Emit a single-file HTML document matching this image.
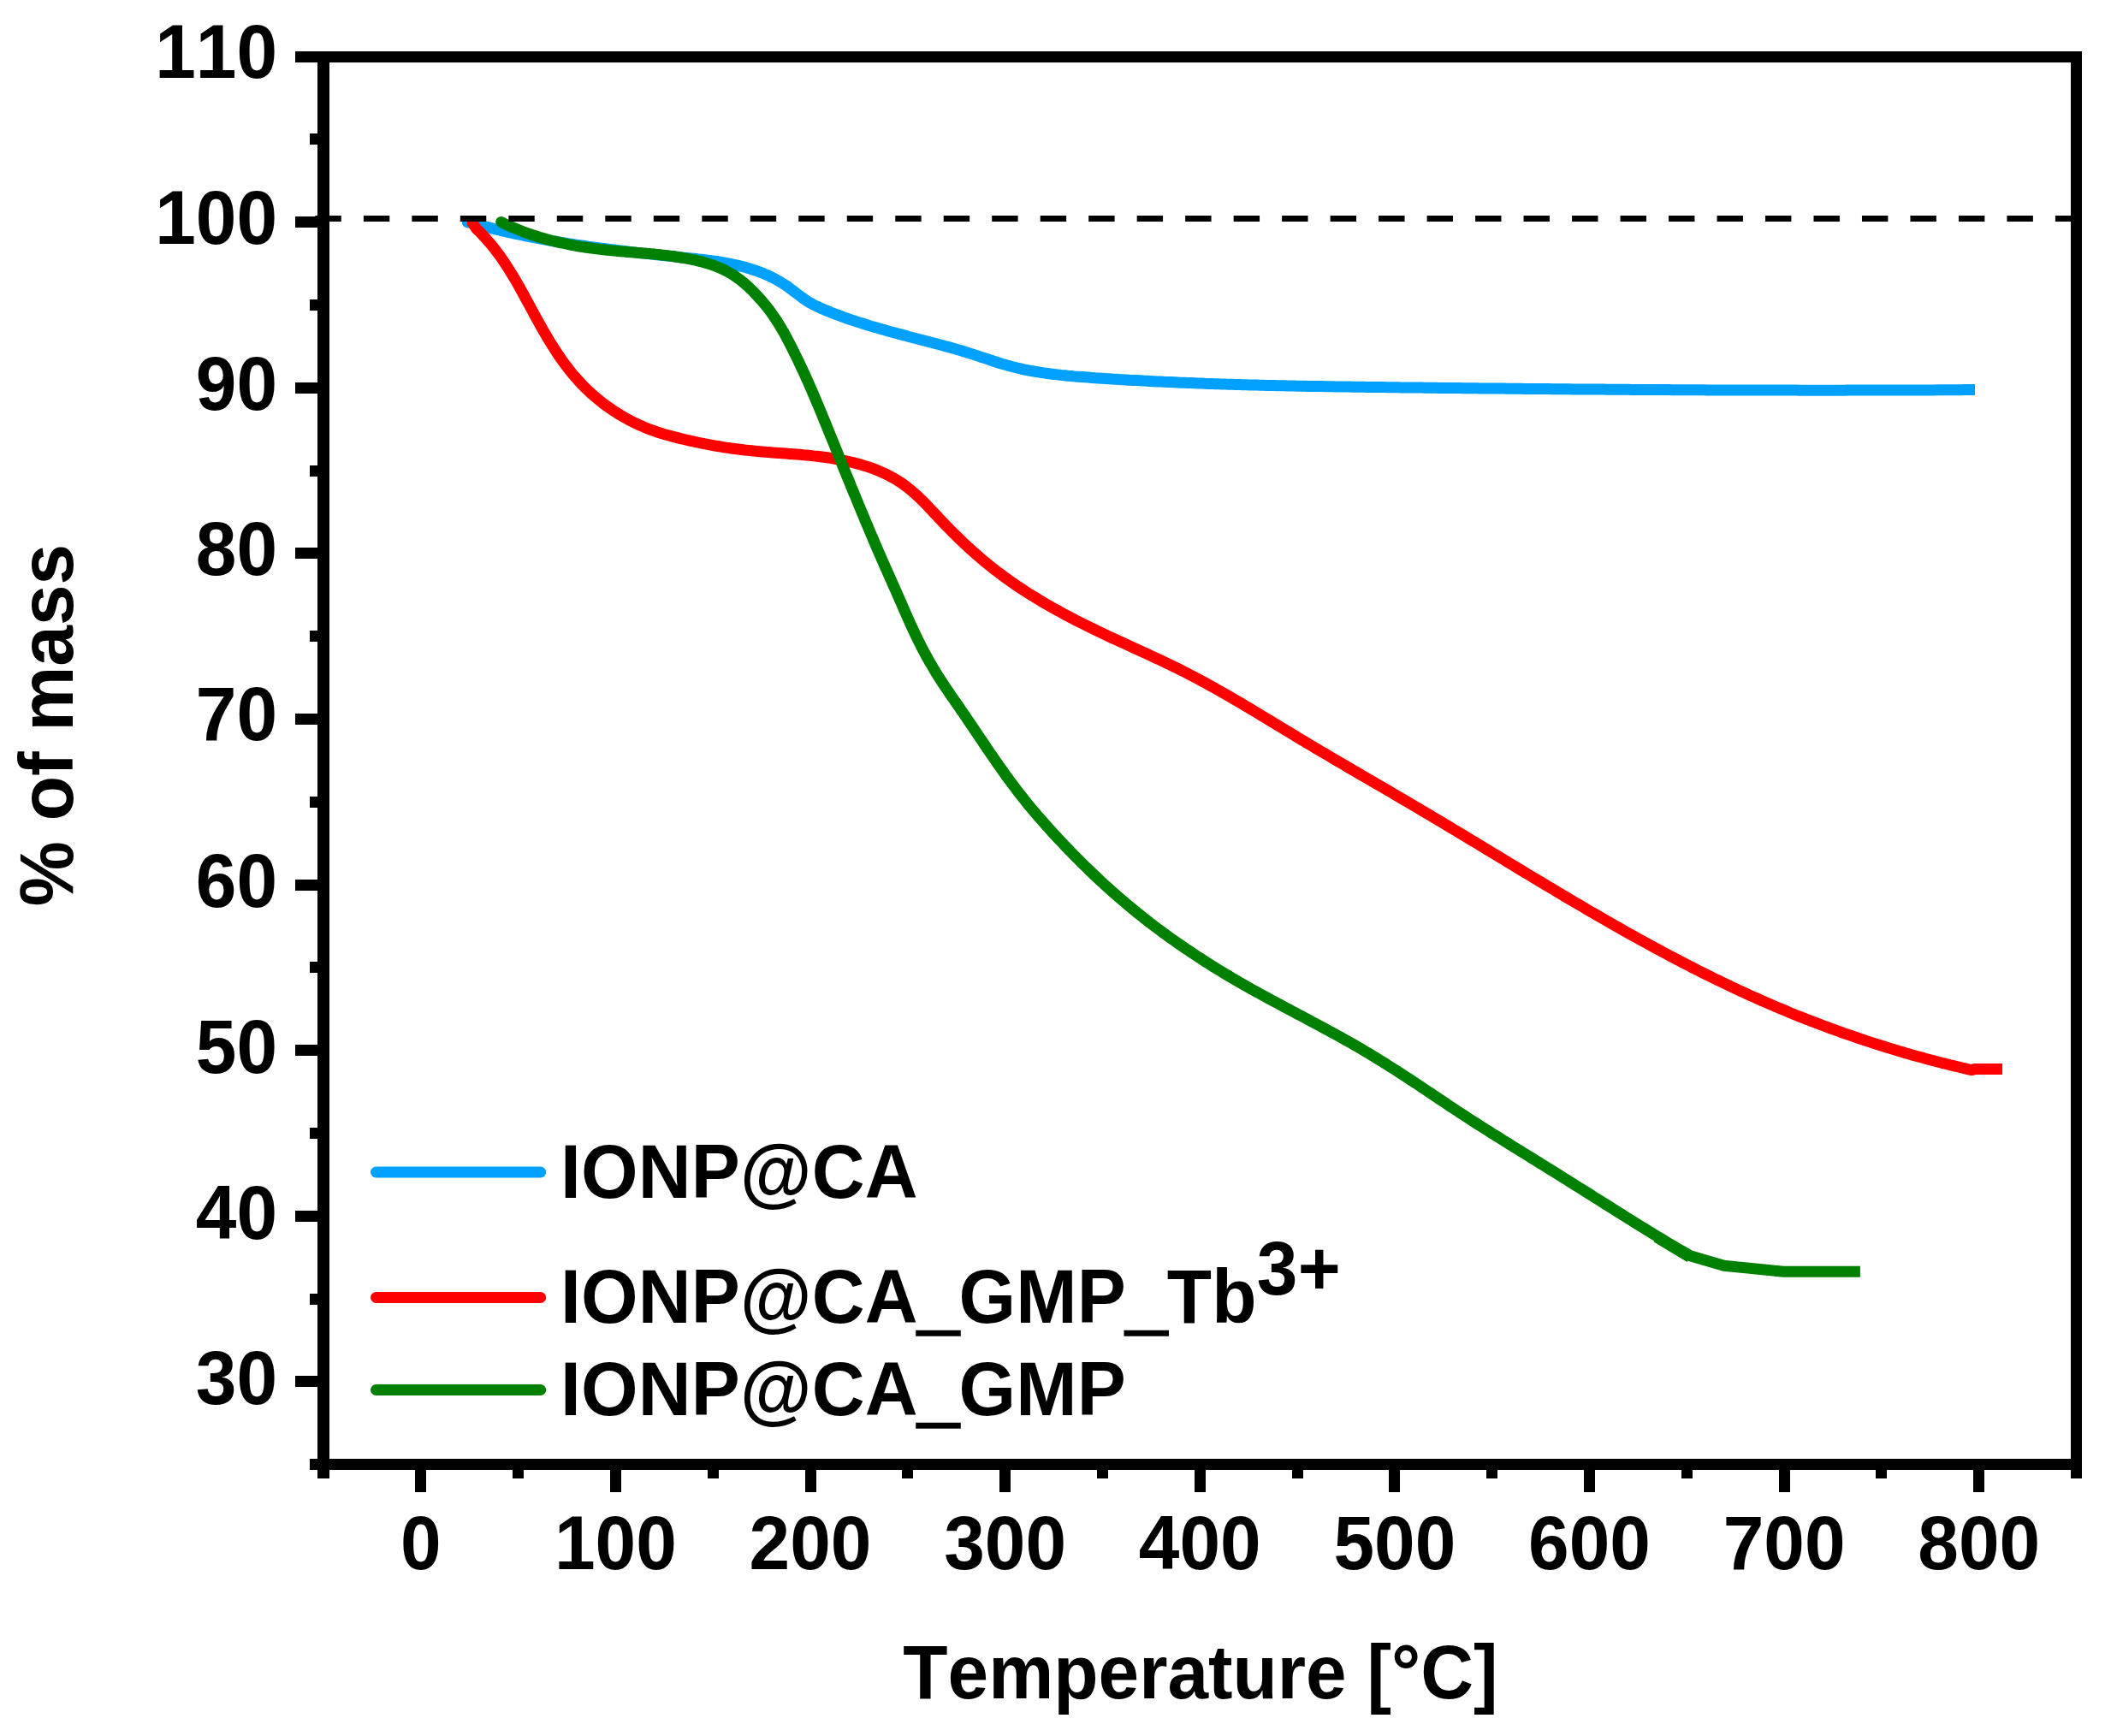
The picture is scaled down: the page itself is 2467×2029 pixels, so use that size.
<!DOCTYPE html>
<html lang="en"><head><meta charset="utf-8"><title>TGA: % of mass vs Temperature</title>
<style>html,body{margin:0;padding:0;background:#fff}body{width:2467px;height:2029px;overflow:hidden}svg{display:block}text{font-family:'Liberation Sans', Arial, Helvetica, sans-serif;font-weight:bold;fill:#000;font-kerning:none}</style></head><body>
<svg width="2467" height="2029" viewBox="0 0 2467 2029">
<rect x="0" y="0" width="2467" height="2029" fill="#fff"/>
<g fill="none" stroke-width="13" stroke-linejoin="round" stroke-linecap="butt">
<path d="M546.4 252.0 L546.4 259.8 L573.1 266.4 L577.0 267.4 L580.9 268.3 L584.8 269.3 L588.8 270.2 L592.7 271.1 L596.6 272.0 L600.6 272.8 L604.5 273.7 L608.4 274.5 L612.4 275.3 L616.3 276.1 L620.2 276.9 L624.2 277.7 L628.1 278.4 L632.1 279.2 L636.0 279.9 L640.0 280.6 L643.9 281.3 L647.9 282.0 L651.8 282.6 L655.8 283.3 L659.7 283.9 L663.7 284.6 L667.7 285.2 L671.6 285.8 L675.6 286.4 L679.6 287.0 L683.5 287.5 L687.5 288.1 L691.5 288.6 L695.4 289.2 L699.4 289.7 L703.4 290.3 L707.4 290.8 L711.3 291.3 L715.3 291.8 L719.3 292.3 L723.3 292.8 L727.3 293.2 L731.3 293.7 L735.2 294.2 L739.2 294.6 L743.2 295.1 L747.2 295.5 L751.2 296.0 L755.2 296.4 L759.2 296.9 L763.2 297.3 L767.2 297.7 L771.2 298.1 L775.2 298.6 L779.2 299.0 L783.2 299.4 L787.2 299.8 L791.2 300.2 L795.2 300.7 L799.2 301.1 L803.2 301.5 L807.2 301.9 L811.2 302.3 L815.2 302.8 L819.2 303.2 L823.2 303.7 L827.2 304.2 L831.2 304.7 L835.2 305.2 L839.2 305.8 L843.1 306.5 L847.1 307.1 L851.0 307.9 L854.9 308.6 L858.9 309.5 L862.8 310.4 L866.6 311.3 L870.5 312.3 L874.3 313.4 L878.2 314.6 L882.0 315.9 L885.7 317.2 L889.5 318.6 L893.2 320.1 L896.9 321.7 L900.6 323.4 L904.2 325.2 L907.7 327.1 L911.2 329.1 L914.7 331.2 L918.1 333.4 L921.4 335.7 L924.6 338.1 L927.8 340.5 L931.0 343.0 L934.2 345.4 L937.4 347.8 L940.7 350.1 L944.0 352.3 L947.4 354.3 L950.9 356.2 L954.5 358.0 L958.1 359.7 L961.8 361.3 L965.4 362.9 L969.2 364.4 L972.9 365.9 L976.7 367.3 L980.4 368.7 L984.2 370.1 L988.0 371.5 L991.8 372.8 L995.6 374.1 L999.4 375.3 L1003.2 376.6 L1007.1 377.8 L1010.9 379.0 L1014.7 380.2 L1018.6 381.4 L1022.5 382.5 L1026.3 383.6 L1030.2 384.7 L1034.1 385.8 L1037.9 386.9 L1041.8 388.0 L1045.7 389.0 L1049.6 390.1 L1053.5 391.1 L1057.4 392.1 L1061.2 393.2 L1065.1 394.2 L1069.0 395.2 L1072.9 396.2 L1076.8 397.2 L1080.6 398.2 L1084.5 399.2 L1088.4 400.2 L1092.3 401.2 L1096.1 402.3 L1100.0 403.3 L1103.9 404.4 L1107.7 405.4 L1111.6 406.5 L1115.4 407.6 L1119.3 408.7 L1123.1 409.8 L1127.0 411.0 L1130.8 412.2 L1134.7 413.4 L1138.5 414.6 L1142.4 415.9 L1146.2 417.2 L1150.0 418.4 L1153.9 419.7 L1157.7 421.0 L1161.5 422.2 L1165.4 423.5 L1169.2 424.7 L1173.1 425.8 L1177.0 426.9 L1180.8 428.0 L1184.7 429.0 L1188.6 430.0 L1192.5 430.9 L1196.4 431.8 L1200.4 432.6 L1204.3 433.3 L1208.2 434.0 L1212.2 434.7 L1216.1 435.3 L1220.1 435.9 L1224.1 436.5 L1228.0 437.0 L1232.0 437.5 L1236.0 437.9 L1240.0 438.4 L1244.0 438.8 L1248.0 439.2 L1252.0 439.5 L1256.0 439.9 L1260.0 440.2 L1264.0 440.5 L1268.0 440.8 L1272.0 441.1 L1276.0 441.4 L1280.0 441.7 L1284.0 441.9 L1288.0 442.2 L1292.0 442.5 L1296.1 442.7 L1300.1 443.0 L1304.1 443.2 L1308.1 443.5 L1312.1 443.7 L1316.1 443.9 L1320.1 444.2 L1324.1 444.4 L1328.1 444.6 L1332.2 444.8 L1336.2 445.1 L1340.2 445.3 L1344.2 445.5 L1348.2 445.7 L1352.2 445.9 L1356.2 446.1 L1360.2 446.3 L1364.2 446.4 L1368.3 446.6 L1372.3 446.8 L1376.3 447.0 L1380.3 447.2 L1384.3 447.3 L1388.3 447.5 L1392.3 447.6 L1396.3 447.8 L1400.4 448.0 L1404.4 448.1 L1408.4 448.3 L1412.4 448.4 L1416.4 448.5 L1420.4 448.7 L1424.4 448.8 L1428.5 448.9 L1432.5 449.1 L1436.5 449.2 L1440.5 449.3 L1444.5 449.4 L1448.5 449.5 L1452.5 449.7 L1456.6 449.8 L1460.6 449.9 L1464.6 450.0 L1468.6 450.1 L1472.6 450.2 L1476.6 450.3 L1480.6 450.4 L1484.7 450.5 L1488.7 450.6 L1492.7 450.7 L1496.7 450.7 L1500.7 450.8 L1504.7 450.9 L1508.8 451.0 L1512.8 451.1 L1516.8 451.2 L1520.8 451.2 L1524.8 451.3 L1528.8 451.4 L1532.8 451.4 L1536.9 451.5 L1540.9 451.6 L1544.9 451.6 L1548.9 451.7 L1552.9 451.8 L1556.9 451.8 L1561.0 451.9 L1565.0 452.0 L1569.0 452.0 L1573.0 452.1 L1577.0 452.1 L1581.0 452.2 L1585.1 452.2 L1589.1 452.3 L1593.1 452.3 L1597.1 452.4 L1601.1 452.4 L1605.1 452.5 L1609.2 452.5 L1613.2 452.6 L1617.2 452.6 L1621.2 452.7 L1625.2 452.7 L1629.2 452.8 L1633.3 452.8 L1637.3 452.9 L1641.3 452.9 L1645.3 453.0 L1649.3 453.0 L1653.3 453.1 L1657.4 453.1 L1661.4 453.1 L1665.4 453.2 L1669.4 453.2 L1673.4 453.3 L1677.4 453.3 L1681.5 453.4 L1685.5 453.4 L1689.5 453.4 L1693.5 453.5 L1697.5 453.5 L1701.5 453.6 L1705.5 453.6 L1709.6 453.7 L1713.6 453.7 L1717.6 453.7 L1721.6 453.8 L1725.6 453.8 L1729.6 453.9 L1733.7 453.9 L1737.7 453.9 L1741.7 454.0 L1745.7 454.0 L1749.7 454.1 L1753.7 454.1 L1757.8 454.1 L1761.8 454.2 L1765.8 454.2 L1769.8 454.3 L1773.8 454.3 L1777.8 454.3 L1781.9 454.4 L1785.9 454.4 L1789.9 454.4 L1793.9 454.5 L1797.9 454.5 L1801.9 454.6 L1806.0 454.6 L1810.0 454.6 L1814.0 454.7 L1818.0 454.7 L1822.0 454.7 L1826.0 454.8 L1830.1 454.8 L1834.1 454.8 L1838.1 454.9 L1842.1 454.9 L1846.1 454.9 L1850.1 455.0 L1854.1 455.0 L1858.2 455.0 L1862.2 455.1 L1866.2 455.1 L1870.2 455.1 L1874.2 455.1 L1878.2 455.2 L1882.3 455.2 L1886.3 455.2 L1890.3 455.3 L1894.3 455.3 L1898.3 455.3 L1902.3 455.3 L1906.4 455.4 L1910.4 455.4 L1914.4 455.4 L1918.4 455.5 L1922.4 455.5 L1926.4 455.5 L1930.5 455.5 L1934.5 455.6 L1938.5 455.6 L1942.5 455.6 L1946.5 455.6 L1950.5 455.6 L1954.5 455.7 L1958.6 455.7 L1962.6 455.7 L1966.6 455.7 L1970.6 455.8 L1974.6 455.8 L1978.6 455.8 L1982.7 455.8 L1986.7 455.8 L1990.7 455.8 L1994.7 455.9 L1998.7 455.9 L2002.7 455.9 L2006.8 455.9 L2010.8 455.9 L2014.8 455.9 L2018.8 456.0 L2022.8 456.0 L2026.8 456.0 L2030.9 456.0 L2034.9 456.0 L2038.9 456.0 L2042.9 456.0 L2046.9 456.0 L2050.9 456.1 L2055.0 456.1 L2059.0 456.1 L2063.0 456.1 L2067.0 456.1 L2071.0 456.1 L2075.0 456.1 L2079.1 456.1 L2083.1 456.1 L2087.1 456.1 L2091.1 456.1 L2095.1 456.1 L2099.1 456.1 L2103.1 456.2 L2107.2 456.2 L2111.2 456.2 L2115.2 456.2 L2119.2 456.2 L2123.2 456.2 L2127.2 456.2 L2131.3 456.2 L2135.3 456.2 L2139.3 456.2 L2143.3 456.2 L2147.3 456.2 L2151.3 456.2 L2155.4 456.2 L2159.4 456.1 L2163.4 456.1 L2167.4 456.1 L2171.4 456.1 L2175.4 456.1 L2179.5 456.1 L2183.5 456.1 L2187.5 456.1 L2191.5 456.1 L2195.5 456.1 L2199.5 456.1 L2203.6 456.1 L2207.6 456.1 L2211.6 456.0 L2215.6 456.0 L2219.6 456.0 L2223.6 456.0 L2227.7 456.0 L2231.7 456.0 L2235.7 456.0 L2239.7 455.9 L2243.7 455.9 L2247.7 455.9 L2251.8 455.9 L2255.8 455.9 L2259.8 455.9 L2263.8 455.8 L2267.8 455.8 L2271.8 455.8 L2275.9 455.8 L2279.9 455.7 L2283.9 455.7 L2287.9 455.7 L2291.9 455.7 L2295.9 455.6 L2300.0 455.6 L2304.0 455.6 L2308.0 455.6" stroke="#00a0ff"/>
<path d="M552.4 252.0 L552.4 261.0 L557.1 267.8 L560.1 270.6 L562.9 273.5 L565.7 276.5 L568.4 279.4 L571.1 282.5 L573.7 285.5 L576.2 288.6 L578.7 291.8 L581.1 294.9 L583.5 298.1 L585.8 301.4 L588.1 304.7 L590.3 308.0 L592.5 311.3 L594.6 314.7 L596.7 318.1 L598.8 321.5 L600.9 324.9 L602.9 328.4 L604.9 331.8 L606.9 335.3 L608.8 338.8 L610.8 342.3 L612.7 345.8 L614.6 349.4 L616.5 352.9 L618.5 356.4 L620.4 360.0 L622.3 363.5 L624.2 367.1 L626.1 370.6 L628.1 374.2 L630.0 377.7 L632.0 381.2 L634.0 384.7 L636.0 388.2 L638.1 391.7 L640.1 395.2 L642.2 398.7 L644.3 402.1 L646.5 405.5 L648.6 408.9 L650.9 412.3 L653.1 415.6 L655.4 419.0 L657.7 422.2 L660.1 425.5 L662.5 428.7 L664.9 431.9 L667.4 435.0 L670.0 438.1 L672.6 441.1 L675.3 444.1 L678.0 447.1 L680.7 450.0 L683.5 452.8 L686.4 455.6 L689.3 458.4 L692.3 461.1 L695.3 463.7 L698.4 466.3 L701.5 468.8 L704.7 471.3 L707.9 473.7 L711.2 476.1 L714.5 478.4 L717.8 480.6 L721.2 482.8 L724.6 484.9 L728.1 487.0 L731.6 488.9 L735.1 490.9 L738.7 492.7 L742.3 494.5 L745.9 496.2 L749.6 497.8 L753.3 499.4 L757.0 500.9 L760.8 502.4 L764.5 503.7 L768.3 505.0 L772.2 506.2 L776.0 507.4 L779.9 508.5 L783.8 509.6 L787.7 510.6 L791.6 511.6 L795.5 512.6 L799.4 513.5 L803.3 514.4 L807.3 515.3 L811.2 516.1 L815.1 517.0 L819.1 517.8 L823.0 518.6 L826.9 519.3 L830.9 520.1 L834.8 520.8 L838.8 521.5 L842.7 522.1 L846.7 522.8 L850.6 523.4 L854.6 524.0 L858.6 524.5 L862.6 525.0 L866.5 525.5 L870.5 526.0 L874.5 526.4 L878.5 526.8 L882.5 527.2 L886.5 527.6 L890.5 527.9 L894.5 528.3 L898.5 528.6 L902.6 528.9 L906.6 529.2 L910.6 529.5 L914.6 529.8 L918.6 530.1 L922.6 530.4 L926.7 530.7 L930.7 531.0 L934.7 531.3 L938.7 531.7 L942.7 532.0 L946.7 532.4 L950.7 532.9 L954.7 533.3 L958.7 533.8 L962.6 534.3 L966.6 534.8 L970.6 535.4 L974.5 536.1 L978.5 536.7 L982.4 537.5 L986.4 538.3 L990.3 539.1 L994.2 540.0 L998.1 540.9 L1002.0 542.0 L1005.9 543.1 L1009.7 544.2 L1013.6 545.4 L1017.4 546.7 L1021.2 548.1 L1024.9 549.6 L1028.6 551.1 L1032.3 552.7 L1035.9 554.4 L1039.5 556.2 L1043.0 558.1 L1046.5 560.1 L1049.8 562.2 L1053.2 564.3 L1056.4 566.6 L1059.6 569.0 L1062.8 571.5 L1065.8 574.0 L1068.8 576.6 L1071.8 579.3 L1074.7 582.1 L1077.6 584.9 L1080.4 587.7 L1083.2 590.6 L1086.0 593.6 L1088.8 596.5 L1091.6 599.5 L1094.4 602.4 L1097.1 605.4 L1099.9 608.3 L1102.7 611.3 L1105.5 614.2 L1108.3 617.1 L1111.2 620.0 L1114.0 622.8 L1116.9 625.7 L1119.8 628.5 L1122.7 631.3 L1125.6 634.1 L1128.5 636.8 L1131.5 639.5 L1134.4 642.3 L1137.4 644.9 L1140.4 647.6 L1143.5 650.2 L1146.5 652.8 L1149.6 655.4 L1152.7 658.0 L1155.8 660.5 L1158.9 663.0 L1162.0 665.5 L1165.2 667.9 L1168.4 670.3 L1171.6 672.7 L1174.8 675.1 L1178.1 677.4 L1181.3 679.8 L1184.6 682.0 L1187.9 684.3 L1191.2 686.5 L1194.6 688.7 L1197.9 690.9 L1201.3 693.1 L1204.7 695.2 L1208.1 697.3 L1211.5 699.4 L1215.0 701.5 L1218.4 703.6 L1221.9 705.6 L1225.4 707.6 L1228.8 709.6 L1232.4 711.6 L1235.9 713.5 L1239.4 715.4 L1242.9 717.4 L1246.5 719.3 L1250.0 721.1 L1253.6 723.0 L1257.2 724.9 L1260.8 726.7 L1264.3 728.5 L1267.9 730.3 L1271.6 732.1 L1275.2 733.9 L1278.8 735.6 L1282.4 737.4 L1286.0 739.1 L1289.7 740.9 L1293.3 742.6 L1296.9 744.3 L1300.6 746.0 L1304.2 747.7 L1307.9 749.4 L1311.5 751.0 L1315.2 752.7 L1318.8 754.4 L1322.5 756.1 L1326.1 757.7 L1329.8 759.4 L1333.4 761.1 L1337.1 762.7 L1340.7 764.4 L1344.4 766.1 L1348.0 767.8 L1351.6 769.5 L1355.3 771.2 L1358.9 772.9 L1362.5 774.6 L1366.1 776.3 L1369.7 778.1 L1373.3 779.8 L1376.9 781.6 L1380.5 783.4 L1384.1 785.2 L1387.6 787.0 L1391.2 788.9 L1394.8 790.7 L1398.3 792.6 L1401.8 794.5 L1405.4 796.4 L1408.9 798.3 L1412.4 800.3 L1415.9 802.2 L1419.4 804.2 L1422.9 806.1 L1426.4 808.1 L1429.9 810.1 L1433.4 812.1 L1436.9 814.1 L1440.4 816.1 L1443.8 818.2 L1447.3 820.2 L1450.8 822.2 L1454.2 824.3 L1457.7 826.3 L1461.1 828.4 L1464.6 830.5 L1468.0 832.5 L1471.5 834.6 L1474.9 836.7 L1478.4 838.8 L1481.8 840.8 L1485.2 842.9 L1488.7 845.0 L1492.1 847.1 L1495.6 849.2 L1499.0 851.3 L1502.4 853.4 L1505.9 855.4 L1509.3 857.5 L1512.8 859.6 L1516.2 861.7 L1519.6 863.8 L1523.1 865.8 L1526.5 867.9 L1530.0 870.0 L1533.4 872.0 L1536.9 874.1 L1540.3 876.1 L1543.8 878.2 L1547.2 880.2 L1550.7 882.2 L1554.2 884.3 L1557.6 886.3 L1561.1 888.4 L1564.5 890.4 L1568.0 892.4 L1571.5 894.4 L1574.9 896.5 L1578.4 898.5 L1581.8 900.5 L1585.3 902.5 L1588.8 904.6 L1592.2 906.6 L1595.7 908.6 L1599.2 910.6 L1602.6 912.6 L1606.1 914.6 L1609.5 916.7 L1613.0 918.7 L1616.5 920.7 L1619.9 922.7 L1623.4 924.7 L1626.9 926.8 L1630.3 928.8 L1633.8 930.8 L1637.2 932.8 L1640.7 934.9 L1644.2 936.9 L1647.6 938.9 L1651.1 941.0 L1654.5 943.0 L1658.0 945.0 L1661.4 947.1 L1664.9 949.1 L1668.3 951.2 L1671.8 953.2 L1675.2 955.3 L1678.7 957.3 L1682.1 959.4 L1685.6 961.4 L1689.0 963.5 L1692.5 965.6 L1695.9 967.6 L1699.4 969.7 L1702.8 971.8 L1706.2 973.8 L1709.7 975.9 L1713.1 978.0 L1716.6 980.1 L1720.0 982.2 L1723.4 984.2 L1726.9 986.3 L1730.3 988.4 L1733.8 990.5 L1737.2 992.6 L1740.6 994.6 L1744.1 996.7 L1747.5 998.8 L1751.0 1000.9 L1754.4 1003.0 L1757.8 1005.0 L1761.3 1007.1 L1764.7 1009.2 L1768.1 1011.3 L1771.6 1013.4 L1775.0 1015.5 L1778.5 1017.5 L1781.9 1019.6 L1785.4 1021.7 L1788.8 1023.8 L1792.2 1025.8 L1795.7 1027.9 L1799.1 1030.0 L1802.6 1032.0 L1806.0 1034.1 L1809.5 1036.2 L1812.9 1038.2 L1816.4 1040.3 L1819.8 1042.4 L1823.3 1044.4 L1826.7 1046.5 L1830.2 1048.5 L1833.7 1050.6 L1837.1 1052.6 L1840.6 1054.7 L1844.0 1056.7 L1847.5 1058.7 L1851.0 1060.8 L1854.4 1062.8 L1857.9 1064.8 L1861.4 1066.8 L1864.9 1068.9 L1868.3 1070.9 L1871.8 1072.9 L1875.3 1074.9 L1878.8 1076.9 L1882.3 1078.9 L1885.7 1080.9 L1889.2 1082.9 L1892.7 1084.8 L1896.2 1086.8 L1899.7 1088.8 L1903.2 1090.8 L1906.7 1092.7 L1910.2 1094.7 L1913.7 1096.6 L1917.2 1098.6 L1920.8 1100.5 L1924.3 1102.4 L1927.8 1104.4 L1931.3 1106.3 L1934.8 1108.2 L1938.4 1110.1 L1941.9 1112.0 L1945.4 1113.9 L1949.0 1115.8 L1952.5 1117.7 L1956.1 1119.6 L1959.6 1121.4 L1963.2 1123.3 L1966.7 1125.1 L1970.3 1127.0 L1973.9 1128.8 L1977.4 1130.6 L1981.0 1132.5 L1984.6 1134.3 L1988.2 1136.1 L1991.8 1137.9 L1995.3 1139.7 L1998.9 1141.4 L2002.5 1143.2 L2006.1 1145.0 L2009.7 1146.7 L2013.4 1148.5 L2017.0 1150.2 L2020.6 1151.9 L2024.2 1153.7 L2027.8 1155.4 L2031.5 1157.1 L2035.1 1158.8 L2038.8 1160.4 L2042.4 1162.1 L2046.1 1163.8 L2049.7 1165.4 L2053.4 1167.0 L2057.0 1168.7 L2060.7 1170.3 L2064.4 1171.9 L2068.1 1173.5 L2071.8 1175.1 L2075.5 1176.7 L2079.2 1178.2 L2082.9 1179.8 L2086.6 1181.3 L2090.3 1182.9 L2094.0 1184.4 L2097.7 1185.9 L2101.4 1187.4 L2105.2 1188.9 L2108.9 1190.4 L2112.7 1191.8 L2116.4 1193.3 L2120.1 1194.7 L2123.9 1196.2 L2127.7 1197.6 L2131.4 1199.0 L2135.2 1200.4 L2138.9 1201.8 L2142.7 1203.2 L2146.5 1204.5 L2150.3 1205.9 L2154.1 1207.3 L2157.9 1208.6 L2161.7 1209.9 L2165.5 1211.2 L2169.3 1212.5 L2173.1 1213.8 L2176.9 1215.1 L2180.7 1216.4 L2184.5 1217.6 L2188.3 1218.9 L2192.1 1220.1 L2196.0 1221.3 L2199.8 1222.5 L2203.6 1223.7 L2207.5 1224.9 L2211.3 1226.1 L2215.2 1227.2 L2219.0 1228.4 L2222.9 1229.5 L2226.7 1230.7 L2230.6 1231.8 L2234.4 1232.9 L2238.3 1234.0 L2242.2 1235.0 L2246.1 1236.1 L2249.9 1237.2 L2253.8 1238.2 L2257.7 1239.2 L2261.6 1240.3 L2265.5 1241.3 L2269.3 1242.3 L2273.2 1243.2 L2277.1 1244.2 L2281.0 1245.2 L2284.9 1246.1 L2288.8 1247.0 L2292.7 1248.0 L2296.7 1248.9 L2300.6 1249.8 L2304.5 1250.6 L2308.0 1249.4 L2340.0 1249.4" stroke="#ff0000"/>
<path d="M585.6 259.6 L589.2 261.4 L592.9 263.1 L596.5 264.7 L600.2 266.3 L603.9 267.8 L607.6 269.3 L611.3 270.8 L615.1 272.1 L618.9 273.5 L622.7 274.8 L626.5 276.0 L630.3 277.2 L634.2 278.3 L638.0 279.4 L641.9 280.5 L645.8 281.5 L649.7 282.4 L653.6 283.3 L657.6 284.2 L661.5 285.0 L665.4 285.8 L669.4 286.6 L673.4 287.3 L677.3 288.0 L681.3 288.6 L685.3 289.3 L689.3 289.8 L693.3 290.4 L697.3 290.9 L701.3 291.4 L705.3 291.8 L709.3 292.2 L713.3 292.6 L717.3 293.0 L721.3 293.4 L725.3 293.7 L729.3 294.1 L733.3 294.4 L737.3 294.7 L741.3 295.1 L745.3 295.4 L749.3 295.7 L753.3 296.1 L757.3 296.4 L761.3 296.8 L765.2 297.1 L769.2 297.5 L773.2 298.0 L777.2 298.4 L781.2 298.9 L785.2 299.4 L789.2 300.0 L793.1 300.6 L797.1 301.2 L801.1 301.9 L805.0 302.6 L809.0 303.4 L812.9 304.2 L816.8 305.1 L820.7 306.1 L824.6 307.2 L828.4 308.4 L832.2 309.6 L835.9 311.0 L839.6 312.4 L843.3 314.0 L846.9 315.7 L850.4 317.6 L853.9 319.5 L857.3 321.6 L860.6 323.9 L863.8 326.2 L867.0 328.7 L870.1 331.3 L873.2 334.0 L876.2 336.8 L879.1 339.6 L881.9 342.5 L884.7 345.5 L887.5 348.5 L890.2 351.5 L892.8 354.6 L895.4 357.7 L897.8 360.9 L900.3 364.1 L902.6 367.4 L904.9 370.7 L907.2 374.0 L909.3 377.4 L911.4 380.8 L913.5 384.3 L915.5 387.7 L917.4 391.2 L919.3 394.8 L921.2 398.3 L923.0 401.8 L924.9 405.4 L926.7 409.0 L928.4 412.6 L930.2 416.2 L932.0 419.8 L933.7 423.4 L935.4 427.0 L937.1 430.6 L938.8 434.3 L940.5 437.9 L942.1 441.6 L943.8 445.2 L945.4 448.9 L947.0 452.6 L948.6 456.2 L950.2 459.9 L951.8 463.6 L953.4 467.3 L954.9 471.0 L956.5 474.7 L958.0 478.4 L959.6 482.1 L961.1 485.9 L962.6 489.6 L964.2 493.3 L965.7 497.0 L967.2 500.8 L968.7 504.5 L970.2 508.2 L971.7 511.9 L973.3 515.7 L974.8 519.4 L976.3 523.1 L977.8 526.8 L979.3 530.6 L980.8 534.3 L982.3 538.0 L983.8 541.7 L985.3 545.5 L986.8 549.2 L988.3 552.9 L989.8 556.6 L991.4 560.3 L992.9 564.0 L994.4 567.8 L995.9 571.5 L997.4 575.2 L999.0 578.9 L1000.5 582.6 L1002.0 586.3 L1003.5 590.0 L1005.1 593.7 L1006.6 597.4 L1008.2 601.1 L1009.7 604.8 L1011.2 608.6 L1012.8 612.2 L1014.4 615.9 L1015.9 619.6 L1017.5 623.3 L1019.1 627.0 L1020.6 630.7 L1022.2 634.4 L1023.8 638.1 L1025.4 641.8 L1027.0 645.5 L1028.6 649.1 L1030.2 652.8 L1031.8 656.5 L1033.4 660.2 L1035.0 663.9 L1036.7 667.5 L1038.3 671.2 L1039.9 674.9 L1041.6 678.5 L1043.2 682.2 L1044.8 685.9 L1046.5 689.5 L1048.1 693.2 L1049.7 696.9 L1051.3 700.6 L1053.0 704.2 L1054.6 707.9 L1056.2 711.6 L1057.8 715.3 L1059.4 719.0 L1061.0 722.6 L1062.7 726.3 L1064.3 730.0 L1066.0 733.6 L1067.7 737.3 L1069.4 740.9 L1071.1 744.5 L1072.9 748.1 L1074.7 751.7 L1076.5 755.3 L1078.3 758.9 L1080.2 762.4 L1082.1 765.9 L1084.1 769.5 L1086.0 773.0 L1088.1 776.4 L1090.1 779.9 L1092.1 783.3 L1094.2 786.8 L1096.4 790.2 L1098.5 793.5 L1100.7 796.9 L1102.9 800.3 L1105.1 803.6 L1107.4 806.9 L1109.7 810.3 L1111.9 813.6 L1114.2 816.9 L1116.5 820.2 L1118.8 823.5 L1121.1 826.8 L1123.3 830.1 L1125.6 833.4 L1127.9 836.7 L1130.1 840.0 L1132.4 843.4 L1134.6 846.7 L1136.9 850.0 L1139.1 853.4 L1141.4 856.7 L1143.6 860.0 L1145.9 863.4 L1148.1 866.7 L1150.4 870.0 L1152.6 873.4 L1154.9 876.7 L1157.1 880.0 L1159.4 883.3 L1161.7 886.6 L1164.0 889.9 L1166.2 893.2 L1168.6 896.5 L1170.9 899.8 L1173.2 903.0 L1175.5 906.3 L1177.9 909.5 L1180.3 912.8 L1182.7 916.0 L1185.1 919.2 L1187.5 922.4 L1189.9 925.6 L1192.4 928.8 L1194.9 931.9 L1197.4 935.0 L1199.9 938.2 L1202.4 941.3 L1205.0 944.4 L1207.6 947.4 L1210.2 950.5 L1212.8 953.6 L1215.4 956.6 L1218.1 959.6 L1220.7 962.6 L1223.4 965.6 L1226.1 968.6 L1228.8 971.6 L1231.5 974.6 L1234.2 977.5 L1237.0 980.5 L1239.7 983.4 L1242.5 986.3 L1245.2 989.2 L1248.0 992.1 L1250.8 995.0 L1253.6 997.9 L1256.4 1000.8 L1259.3 1003.6 L1262.1 1006.5 L1264.9 1009.3 L1267.8 1012.1 L1270.7 1014.9 L1273.6 1017.7 L1276.5 1020.5 L1279.4 1023.3 L1282.3 1026.0 L1285.2 1028.8 L1288.2 1031.5 L1291.1 1034.2 L1294.1 1036.9 L1297.1 1039.6 L1300.1 1042.3 L1303.1 1044.9 L1306.1 1047.6 L1309.1 1050.2 L1312.2 1052.8 L1315.2 1055.4 L1318.3 1058.0 L1321.4 1060.6 L1324.5 1063.1 L1327.6 1065.6 L1330.7 1068.2 L1333.9 1070.7 L1337.0 1073.2 L1340.2 1075.6 L1343.3 1078.1 L1346.5 1080.5 L1349.7 1083.0 L1352.9 1085.4 L1356.2 1087.8 L1359.4 1090.2 L1362.6 1092.5 L1365.9 1094.9 L1369.1 1097.2 L1372.4 1099.5 L1375.7 1101.8 L1379.0 1104.1 L1382.3 1106.4 L1385.6 1108.7 L1389.0 1110.9 L1392.3 1113.2 L1395.6 1115.4 L1399.0 1117.6 L1402.4 1119.8 L1405.7 1122.0 L1409.1 1124.2 L1412.5 1126.3 L1415.9 1128.5 L1419.3 1130.6 L1422.7 1132.7 L1426.2 1134.8 L1429.6 1136.9 L1433.0 1139.0 L1436.5 1141.0 L1439.9 1143.1 L1443.4 1145.1 L1446.9 1147.1 L1450.3 1149.1 L1453.8 1151.1 L1457.3 1153.1 L1460.8 1155.1 L1464.3 1157.1 L1467.8 1159.0 L1471.3 1160.9 L1474.9 1162.9 L1478.4 1164.8 L1481.9 1166.7 L1485.4 1168.6 L1489.0 1170.5 L1492.5 1172.4 L1496.1 1174.3 L1499.6 1176.2 L1503.1 1178.1 L1506.7 1180.0 L1510.2 1181.9 L1513.8 1183.8 L1517.3 1185.7 L1520.9 1187.5 L1524.4 1189.4 L1527.9 1191.3 L1531.5 1193.2 L1535.0 1195.1 L1538.6 1197.0 L1542.1 1198.9 L1545.6 1200.8 L1549.2 1202.7 L1552.7 1204.6 L1556.2 1206.5 L1559.7 1208.4 L1563.3 1210.4 L1566.8 1212.3 L1570.3 1214.3 L1573.8 1216.2 L1577.3 1218.2 L1580.8 1220.2 L1584.2 1222.2 L1587.7 1224.2 L1591.2 1226.2 L1594.6 1228.3 L1598.1 1230.3 L1601.5 1232.4 L1605.0 1234.5 L1608.4 1236.6 L1611.8 1238.7 L1615.2 1240.8 L1618.6 1242.9 L1622.0 1245.1 L1625.4 1247.2 L1628.8 1249.4 L1632.2 1251.5 L1635.6 1253.7 L1638.9 1255.9 L1642.3 1258.1 L1645.7 1260.3 L1649.0 1262.5 L1652.4 1264.7 L1655.7 1266.9 L1659.1 1269.1 L1662.4 1271.4 L1665.8 1273.6 L1669.1 1275.8 L1672.4 1278.0 L1675.8 1280.3 L1679.1 1282.5 L1682.4 1284.8 L1685.8 1287.0 L1689.1 1289.2 L1692.4 1291.5 L1695.8 1293.7 L1699.1 1295.9 L1702.5 1298.1 L1705.8 1300.3 L1709.2 1302.5 L1712.5 1304.7 L1715.9 1306.9 L1719.2 1309.1 L1722.6 1311.3 L1726.0 1313.4 L1729.4 1315.6 L1732.8 1317.7 L1736.2 1319.9 L1739.6 1322.0 L1742.9 1324.2 L1746.3 1326.3 L1749.7 1328.4 L1753.2 1330.6 L1756.6 1332.7 L1760.0 1334.8 L1763.4 1336.9 L1766.8 1339.1 L1770.2 1341.2 L1773.6 1343.3 L1777.0 1345.4 L1780.4 1347.5 L1783.9 1349.6 L1787.3 1351.8 L1790.7 1353.9 L1794.1 1356.0 L1797.5 1358.1 L1800.9 1360.2 L1804.3 1362.3 L1807.8 1364.5 L1811.2 1366.6 L1814.6 1368.7 L1818.0 1370.8 L1821.4 1372.9 L1824.8 1375.1 L1828.2 1377.2 L1831.6 1379.3 L1835.0 1381.5 L1838.4 1383.6 L1841.8 1385.7 L1845.2 1387.9 L1848.6 1390.0 L1852.0 1392.1 L1855.4 1394.3 L1858.8 1396.4 L1862.2 1398.6 L1865.6 1400.7 L1869.0 1402.8 L1872.4 1405.0 L1875.8 1407.1 L1879.2 1409.3 L1882.6 1411.4 L1886.0 1413.5 L1889.4 1415.7 L1892.8 1417.8 L1896.2 1419.9 L1899.6 1422.1 L1903.0 1424.2 L1906.4 1426.3 L1909.8 1428.5 L1913.2 1430.6 L1916.6 1432.7 L1920.0 1434.8 L1923.4 1436.9 L1926.9 1439.0 L1930.3 1441.1 L1933.7 1443.2 L1937.1 1445.3 L1940.6 1447.4 L1944.0 1449.4 L1947.5 1451.5 L1950.9 1453.5 L1954.4 1455.6 L1957.8 1457.6 L1961.3 1459.7 L1964.8 1461.7 L1968.2 1463.7 L1971.7 1465.7 L1975.2 1467.7 L2014.6 1479.2 L2084.2 1486.3 L2173.9 1486.3" stroke="#008000"/>
<path d="M1936 1446 L1975 1469.5" stroke="#008000"/>
</g>
<circle cx="585.7" cy="259.4" r="6.5" fill="#008000"/>
<path d="M368.4 255.4 H2420" fill="none" stroke="#000" stroke-width="7" stroke-dasharray="30.4 26.087"/>
<g fill="#000" shape-rendering="crispEdges">
<rect x="371" y="60" width="14" height="1668"/>
<rect x="2420" y="60" width="13" height="1668"/>
<rect x="345" y="60" width="2088" height="13"/>
<rect x="362" y="1705" width="2071" height="13"/>
<rect x="345" y="253" width="27" height="13"/>
<rect x="345" y="447" width="27" height="13"/>
<rect x="345" y="640" width="27" height="13"/>
<rect x="345" y="834" width="27" height="13"/>
<rect x="345" y="1028" width="27" height="13"/>
<rect x="345" y="1221" width="27" height="13"/>
<rect x="345" y="1415" width="27" height="13"/>
<rect x="345" y="1608" width="27" height="13"/>
<rect x="362" y="156" width="10" height="13"/>
<rect x="362" y="350" width="10" height="13"/>
<rect x="362" y="544" width="10" height="13"/>
<rect x="362" y="737" width="10" height="13"/>
<rect x="362" y="931" width="10" height="13"/>
<rect x="362" y="1124" width="10" height="13"/>
<rect x="362" y="1318" width="10" height="13"/>
<rect x="362" y="1512" width="10" height="13"/>
<rect x="485" y="1717" width="13" height="27"/>
<rect x="713" y="1717" width="13" height="27"/>
<rect x="941" y="1717" width="13" height="27"/>
<rect x="1168" y="1717" width="13" height="27"/>
<rect x="1396" y="1717" width="13" height="27"/>
<rect x="1623" y="1717" width="13" height="27"/>
<rect x="1851" y="1717" width="13" height="27"/>
<rect x="2079" y="1717" width="13" height="27"/>
<rect x="2306" y="1717" width="13" height="27"/>
<rect x="599" y="1717" width="13" height="11"/>
<rect x="827" y="1717" width="13" height="11"/>
<rect x="1054" y="1717" width="13" height="11"/>
<rect x="1282" y="1717" width="13" height="11"/>
<rect x="1510" y="1717" width="13" height="11"/>
<rect x="1737" y="1717" width="13" height="11"/>
<rect x="1965" y="1717" width="13" height="11"/>
<rect x="2192" y="1717" width="13" height="11"/>
</g>
<text transform="translate(324.0 91.2) scale(1 1.040)" font-size="85.6" text-anchor="end">110</text>
<text transform="translate(324.0 285.2) scale(1 1.040)" font-size="85.6" text-anchor="end">100</text>
<text transform="translate(324.0 478.6) scale(1 1.040)" font-size="85.6" text-anchor="end">90</text>
<text transform="translate(324.0 671.9) scale(1 1.040)" font-size="85.6" text-anchor="end">80</text>
<text transform="translate(324.0 865.2) scale(1 1.040)" font-size="85.6" text-anchor="end">70</text>
<text transform="translate(324.0 1060.2) scale(1 1.040)" font-size="85.6" text-anchor="end">60</text>
<text transform="translate(324.0 1254.2) scale(1 1.040)" font-size="85.6" text-anchor="end">50</text>
<text transform="translate(324.0 1447.7) scale(1 1.040)" font-size="85.6" text-anchor="end">40</text>
<text transform="translate(324.0 1641.2) scale(1 1.040)" font-size="85.6" text-anchor="end">30</text>
<text transform="translate(491.8 1834.2) scale(1 1.040)" font-size="85.6" text-anchor="middle">0</text>
<text transform="translate(719.4 1834.2) scale(1 1.040)" font-size="85.6" text-anchor="middle">100</text>
<text transform="translate(947.0 1834.2) scale(1 1.040)" font-size="85.6" text-anchor="middle">200</text>
<text transform="translate(1174.6 1834.2) scale(1 1.040)" font-size="85.6" text-anchor="middle">300</text>
<text transform="translate(1402.2 1834.2) scale(1 1.040)" font-size="85.6" text-anchor="middle">400</text>
<text transform="translate(1629.9 1834.2) scale(1 1.040)" font-size="85.6" text-anchor="middle">500</text>
<text transform="translate(1857.5 1834.2) scale(1 1.040)" font-size="85.6" text-anchor="middle">600</text>
<text transform="translate(2085.1 1834.2) scale(1 1.040)" font-size="85.6" text-anchor="middle">700</text>
<text transform="translate(2312.7 1834.2) scale(1 1.040)" font-size="85.6" text-anchor="middle">800</text>
<text transform="translate(1402.9 1985.3) scale(1 1.045)" font-size="85.6" text-anchor="middle">Temperature [°C]</text>
<text transform="translate(84.8 847.5) rotate(-90) scale(1 1.045)" font-size="85.6" text-anchor="middle">% of mass</text>
<g fill="none" stroke-width="13" stroke-linecap="round">
<path d="M439.5 1370 H631.7" stroke="#00a0ff"/>
<path d="M439.5 1516.5 H631.7" stroke="#ff0000"/>
<path d="M439.5 1624.5 H631.7" stroke="#008000"/>
</g>
<text transform="translate(655.0 1399.8) scale(1 1.045)" font-size="85.6" text-anchor="start" letter-spacing="0.2">IONP@CA</text>
<text transform="translate(655.0 1545.8) scale(1 1.045)" font-size="85.6" text-anchor="start" letter-spacing="0.2">IONP@CA<tspan dy="3.4" stroke="#000" stroke-width="3.4">_</tspan><tspan dy="-3.4">GMP</tspan><tspan dy="3.4" stroke="#000" stroke-width="3.4">_</tspan><tspan dy="-3.4">Tb</tspan><tspan dy="-31.8">3+</tspan></text>
<text transform="translate(655.0 1653.8) scale(1 1.045)" font-size="85.6" text-anchor="start" letter-spacing="0.2">IONP@CA<tspan dy="3.4" stroke="#000" stroke-width="3.4">_</tspan><tspan dy="-3.4">GMP</tspan></text>
</svg></body></html>
